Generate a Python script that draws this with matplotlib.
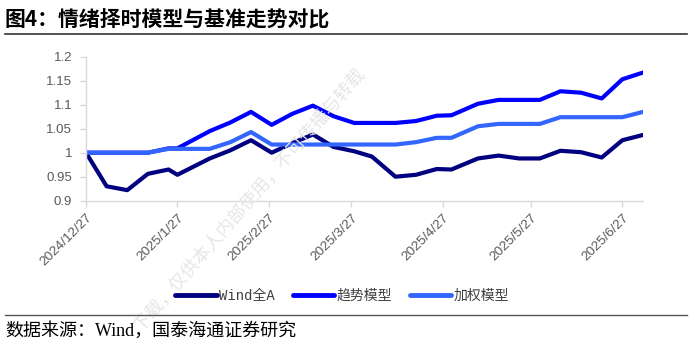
import matplotlib
matplotlib.use("Agg")
import matplotlib.pyplot as plt
import pandas as pd
from matplotlib.lines import Line2D

plt.rcParams['font.family'] = ['Liberation Sans', 'Noto Sans CJK SC', 'DejaVu Sans']

dates = ["2024-12-27", "2025-01-03", "2025-01-10", "2025-01-17", "2025-01-24", "2025-01-27",
         "2025-02-07", "2025-02-14", "2025-02-21", "2025-02-28", "2025-03-07", "2025-03-14",
         "2025-03-21", "2025-03-28", "2025-04-03", "2025-04-11", "2025-04-18", "2025-04-25",
         "2025-04-30", "2025-05-09", "2025-05-16", "2025-05-23", "2025-05-30", "2025-06-06",
         "2025-06-13", "2025-06-20", "2025-06-27", "2025-07-04"]
wind_all_a = [1.000, 0.930, 0.922, 0.956, 0.965, 0.954, 0.988, 1.005, 1.026, 1.000, 1.020, 1.038,
              1.012, 1.003, 0.992, 0.950, 0.954, 0.966, 0.965, 0.988, 0.994, 0.988, 0.988, 1.004,
              1.001, 0.990, 1.026, 1.037]
trend_model = [1.000, 1.000, 1.000, 1.000, 1.009, 1.009, 1.045, 1.063, 1.085, 1.058, 1.081, 1.098,
               1.076, 1.062, 1.062, 1.062, 1.066, 1.077, 1.078, 1.102, 1.110, 1.110, 1.110, 1.128,
               1.125, 1.113, 1.153, 1.167]
weighted_model = [1.000, 1.000, 1.000, 1.000, 1.008, 1.008, 1.008, 1.022, 1.043, 1.017, 1.017, 1.017,
                  1.017, 1.017, 1.017, 1.017, 1.022, 1.031, 1.031, 1.055, 1.060, 1.060, 1.060, 1.074,
                  1.074, 1.074, 1.074, 1.085]
series_names = ["Wind全A", "趋势模型", "加权模型"]
series_colors = ["#000080", "#0000FF", "#3366FF"]
tick_dates = ["2024-12-27", "2025-01-27", "2025-02-27", "2025-03-27", "2025-04-27", "2025-05-27", "2025-06-27"]
tick_labels = ["2024/12/27", "2025/1/27", "2025/2/27", "2025/3/27", "2025/4/27", "2025/5/27", "2025/6/27"]
y_ticks = [0.9, 0.95, 1.0, 1.05, 1.1, 1.15, 1.2]
y_labels = ["0.9", "0.95", "1", "1.05", "1.1", "1.15", "1.2"]
title_text = "图4：情绪择时模型与基准走势对比"
source_text = "数据来源：Wind，国泰海通证券研究"
watermark_text = "下载，仅供本人内部使用，不可传播与转载"

x = pd.to_datetime(dates)

fig = plt.figure(figsize=(6.92, 3.58), dpi=100)

# faint diagonal watermark
fig.text(250/692, 1-200/358, watermark_text, fontsize=13, rotation=49, color='#E6E6E6',
         family=['Noto Sans CJK SC'], ha='center', va='center', zorder=0)

ax = fig.add_axes([86/692, 1-200.7/358, (643-86)/692, (200.7-56.7)/358])
ax.patch.set_alpha(0)

for vals, name, col in zip([wind_all_a, trend_model, weighted_model], series_names, series_colors):
    ax.plot(x, vals, color=col, lw=3.0, solid_joinstyle='round', solid_capstyle='round', label=name)

ax.set_xlim(x[0], x[-1])
ax.set_ylim(0.9, 1.2)
ax.set_yticks(y_ticks)
ax.set_yticklabels(y_labels)
ax.set_xticks(pd.to_datetime(tick_dates))
ax.set_xticklabels(tick_labels, rotation=45, ha='right', rotation_mode='anchor')

for s in ['top', 'right']:
    ax.spines[s].set_visible(False)
for s in ['left', 'bottom']:
    ax.spines[s].set_color('#D9D9D9')
    ax.spines[s].set_linewidth(1.0)
ax.tick_params(axis='both', colors='#D9D9D9', labelcolor='#595959', length=4, width=1.0)
ax.tick_params(axis='y', pad=6, labelsize=9.5)
ax.tick_params(axis='x', pad=4, labelsize=9.7)

handles = [Line2D([0], [0], color=c, lw=3.5, solid_capstyle='round') for c in series_colors]
fig.legend(handles, series_names, loc='center', bbox_to_anchor=(342/692, 1-296/358), ncol=3,
           frameon=False, handlelength=3.0, handletextpad=0.15, columnspacing=1.3,
           labelcolor='#404040', prop={'family': ['Liberation Mono', 'Noto Sans CJK SC'], 'size': 10})

fig.text(5/692, 1-20/358, title_text, fontsize=15, fontweight='bold',
         family=['Noto Sans CJK SC'], va='center', ha='left', color='#000000')
fig.add_artist(Line2D([5/692, 687/692], [1-34/358, 1-34/358], color='#333333', lw=1.2))
fig.add_artist(Line2D([5/692, 687/692], [1-315/358, 1-315/358], color='#555555', lw=1.0))
fig.text(5/692, 1-331/358, source_text, fontsize=13,
         family=['Liberation Serif', 'Noto Sans CJK SC'], va='center', ha='left', color='#000000')

fig.savefig("out.png", dpi=100)
